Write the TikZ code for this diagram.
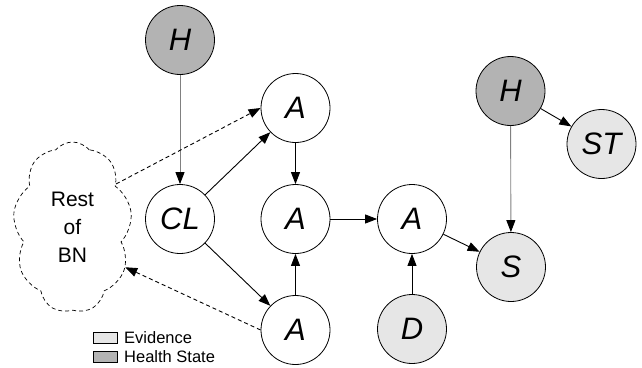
\documentclass[tikz,border=0pt]{standalone}
\usepackage{fontspec}
\setmainfont{Liberation Sans}
\usetikzlibrary{shapes.symbols,arrows.meta}
\definecolor{evidgray}{HTML}{E6E6E6}
\definecolor{healthgray}{HTML}{B3B3B3}
\definecolor{wiregray}{HTML}{808080}

\begin{document}
\begin{tikzpicture}[x=1pt,y=-1pt]

    \tikzset{
      var/.style={
        draw,
        circle,
        line width=0.8pt,
        minimum size=69pt,
        inner sep=0pt,
        font=\fontsize{31}{36}\selectfont\itshape,
      },
      evid/.style={var, fill=evidgray},
      health/.style={var, fill=healthgray},
      link/.style={line width=0.9pt, -{Triangle[length=12pt,width=9pt,color=black]}},
      softlink/.style={link, dash pattern=on 4pt off 3pt},
      keybox/.style={draw, line width=0.6pt, minimum width=24pt, minimum height=11pt, inner sep=0pt},
      keytext/.style={anchor=west, inner sep=0pt, font=\fontsize{16.5}{18}\selectfont},
    }
    \useasboundingbox (0,0) rectangle (642,367);
	\node[health] (h1) at (180,40) {H};
	\node[var] (atop) at (295.5,108) {A};
	\node[var] (cl) at (180,219) {CL};
	\node[var] (amid) at (295.5,219) {A};
	\node[var] (aright) at (412,219) {A};
	\node[var] (abot) at (295.5,330) {A};
	\node[evid] (d) at (412,329) {D};
	\node[evid] (s) at (511,267) {S};
	\node[health] (h2) at (510.5,91) {H};
	\node[evid] (st) at (601.5,144) {ST};
	\node[draw, cloud, cloud puffs=9, cloud puff arc=100, aspect=0.7, dash pattern=on 4pt off 3pt, line width=0.7pt, minimum width=119pt, minimum height=171pt, inner sep=0pt, align=center, font=\fontsize{21}{28}\selectfont] (rest) at (72.5,227.5) {Rest\\of\\BN};

	\draw[link, draw=wiregray] (h1) -- (cl);
	\draw[link] (cl) -- (atop);
	\draw[link] (cl) -- (abot);
	\draw[link] (atop) -- (amid);
	\draw[link] (abot) -- (amid);
	\draw[link] (amid) -- (aright);
	\draw[link] (d) -- (aright);
	\draw[link] (aright) -- (s);
	\draw[link, draw=wiregray] (h2) -- (s);
	\draw[link] (h2) -- (st);
	\draw[softlink] (rest.45) -- (atop.west);
	\draw[softlink] (abot.west) -- (rest.-37);

	\node[keybox, fill=evidgray] (evkey) at (105,337.5) {};
	\node[keytext] (evlabel) at (124,337.5) {Evidence};
	\node[keybox, fill=healthgray] (hskey) at (105,357) {};
	\node[keytext] (hslabel) at (124,357) {Health State};

\end{tikzpicture}
\end{document}
